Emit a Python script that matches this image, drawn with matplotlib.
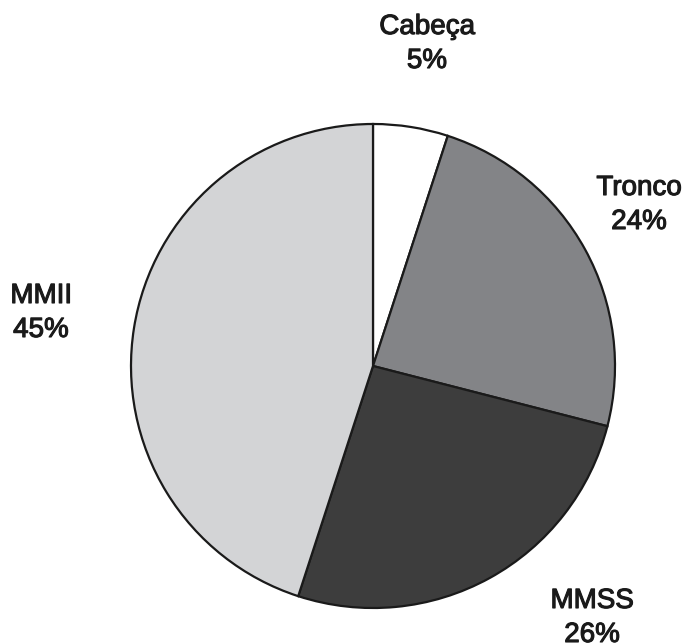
import matplotlib
matplotlib.use("Agg")
import matplotlib.pyplot as plt
import matplotlib.patheffects as pe

categories = ["Cabeça", "Tronco", "MMSS", "MMII"]
percents = [5, 24, 26, 45]
colors = ["#ffffff", "#838487", "#3d3d3d", "#d3d4d6"]

# label anchor points in pixel space (x, y from top)
label_pos = [(427, 44), (639, 205), (592, 618), (41, 313)]

W, H = 683, 644
fig = plt.figure(figsize=(W / 100, H / 100), dpi=100)
ax = fig.add_axes([0, 0, 1, 1])

ax.pie(percents, colors=colors, startangle=90, counterclock=False,
       center=(373, H - 366), radius=242,
       wedgeprops=dict(edgecolor="#1a1a1a", linewidth=1.6))
ax.set_xlim(0, W)
ax.set_ylim(0, H)
ax.set_aspect("equal")
ax.axis("off")

for name, p, (x, y) in zip(categories, percents, label_pos):
    ax.text(x, H - y, f"{name}\n{p}%", ha="center", va="center",
            fontsize=20, family="Liberation Sans", color="#1a1a1a",
            linespacing=1.4,
            path_effects=[pe.withStroke(linewidth=0.8, foreground="#1a1a1a")])

fig.savefig("out.png", dpi=100)
